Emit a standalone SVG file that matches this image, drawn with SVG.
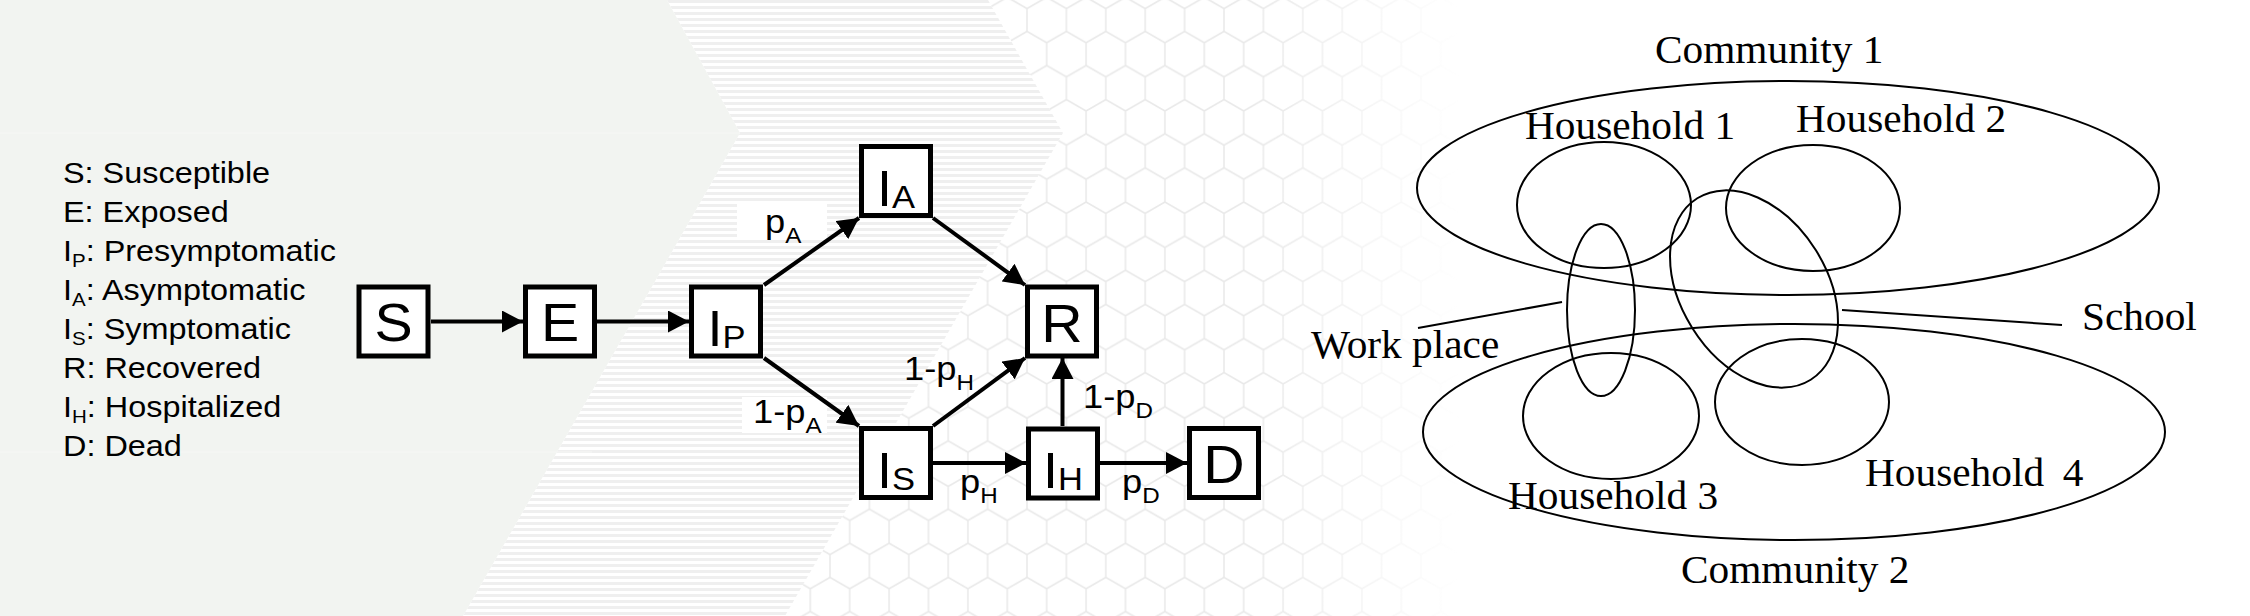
<svg xmlns="http://www.w3.org/2000/svg" width="2250" height="616" viewBox="0 0 2250 616">
<style>
.box{fill:#fff;stroke:#000;stroke-width:5}
.con{fill:none;stroke:#000;stroke-width:4;marker-end:url(#ah)}
.sans{font-family:"Liberation Sans",Arial,sans-serif;fill:#000}
.big{font-size:53px}
.ni{font-size:50px}
.nsub{font-size:32px}
.lbl{font-size:33px}
.lsub{font-size:22px}
.leg{font-size:30px}
.legsub{font-size:19px}
.serif{font-family:"Liberation Serif","Times New Roman",serif;font-size:39px;fill:#000}
.ell{fill:none;stroke:#000;stroke-width:2}
.lbg{fill:#fff}
</style>
<defs>
<marker id="ah" markerUnits="userSpaceOnUse" viewBox="0 0 21 22" markerWidth="21" markerHeight="22" refX="21" refY="11" orient="auto"><path d="M0,0 L21,11 L0,22 z" fill="#000"/></marker>
<pattern id="stripes" patternUnits="userSpaceOnUse" x="0" y="0" width="10" height="6"><rect width="10" height="6" fill="#fff"/><rect y="0" width="10" height="3" fill="#efefef"/></pattern>
<pattern id="hex" patternUnits="userSpaceOnUse" x="1007.3" y="20" width="39.4" height="68.25"><path d="M19.7 0 V11.375 L39.4 22.75 V45.5 L19.7 56.875 V68.25 M19.7 11.375 L0 22.75 V45.5 L19.7 56.875" fill="none" stroke="#e9e9e9" stroke-width="1.5"/></pattern>
<linearGradient id="hexfade" x1="0" y1="0" x2="1" y2="0"><stop offset="0" stop-color="#fff"/><stop offset="0.7" stop-color="#fff"/><stop offset="1" stop-color="#000"/></linearGradient>
<mask id="hexmask" maskUnits="userSpaceOnUse" x="0" y="0" width="2250" height="616"><rect x="780" y="0" width="680" height="616" fill="url(#hexfade)"/></mask>
</defs>
<rect width="2250" height="616" fill="#fff"/>
<g id="background">
<g mask="url(#hexmask)"><polygon points="988,0 1500,0 1500,616 785,616 1063,133" fill="url(#hex)"/></g>
<polygon points="667,0 988,0 1063,133 785,616 463,616 740,133" fill="url(#stripes)"/>
<polygon points="0,0 667,0 740,133 463,616 0,616" fill="#f2f4f1"/>
<line x1="0" y1="133" x2="740" y2="133" stroke="#f6f7f5" stroke-width="1"/>
<line x1="0" y1="452" x2="592" y2="452" stroke="#f6f7f5" stroke-width="1"/>
</g>
<g id="legend" class="sans leg" transform="translate(63,0) scale(1.08,1)">
<text x="0" y="183">S: Susceptible</text>
<text x="0" y="222">E: Exposed</text>
<text x="0" y="261">I<tspan class="legsub" dy="6">P</tspan><tspan dy="-6">: Presymptomatic</tspan></text>
<text x="0" y="300">I<tspan class="legsub" dy="6">A</tspan><tspan dy="-6">: Asymptomatic</tspan></text>
<text x="0" y="339">I<tspan class="legsub" dy="6">S</tspan><tspan dy="-6">: Symptomatic</tspan></text>
<text x="0" y="378">R: Recovered</text>
<text x="0" y="417">I<tspan class="legsub" dy="6">H</tspan><tspan dy="-6">: Hospitalized</tspan></text>
<text x="0" y="456">D: Dead</text>
</g>
<g id="connectors">
<g id="edge-labels" class="sans lbl">
<rect class="lbg" x="737" y="203" width="90" height="36"/>
<text transform="translate(765,233) scale(1.1,1)">p<tspan class="lsub" dy="10">A</tspan></text>
<rect class="lbg" x="742" y="397" width="85" height="36"/>
<text transform="translate(753,423) scale(1.1,1)">1-p<tspan class="lsub" dy="10">A</tspan></text>
<text transform="translate(904,380) scale(1.1,1)">1-p<tspan class="lsub" dy="10">H</tspan></text>
<text transform="translate(1083,408) scale(1.1,1)">1-p<tspan class="lsub" dy="10">D</tspan></text>
<text transform="translate(960,493) scale(1.1,1)">p<tspan class="lsub" dy="10">H</tspan></text>
<text transform="translate(1122,493) scale(1.1,1)">p<tspan class="lsub" dy="10">D</tspan></text>
</g>
<line class="con" x1="431" y1="321.5" x2="523" y2="321.5"/>
<line class="con" x1="597" y1="321.5" x2="689" y2="321.5"/>
<line class="con" x1="764" y1="285" x2="859" y2="218"/>
<line class="con" x1="764" y1="358" x2="859" y2="426"/>
<line class="con" x1="933" y1="218" x2="1025" y2="285"/>
<line class="con" x1="933" y1="426" x2="1025" y2="358"/>
<line class="con" x1="933" y1="463" x2="1026" y2="463"/>
<line class="con" x1="1062.5" y1="426" x2="1062.5" y2="358"/>
<line class="con" x1="1099" y1="463" x2="1187" y2="463"/>
</g>
<g id="node-S"><rect class="box" x="359" y="287" width="69" height="69"/><text class="sans big" text-anchor="middle" transform="translate(393.5,341) scale(1.08,1)">S</text></g>
<g id="node-E"><rect class="box" x="525.5" y="287" width="69" height="69"/><text class="sans big" text-anchor="middle" transform="translate(560,341) scale(1.08,1)">E</text></g>
<g id="node-IP"><rect class="box" x="691.5" y="287" width="69" height="69"/><text class="sans ni" text-anchor="middle" transform="translate(726.5,346) scale(1.08,1)">I<tspan class="nsub" dy="2">P</tspan></text></g>
<g id="node-IA"><rect class="box" x="861.5" y="146.5" width="69" height="69"/><text class="sans ni" text-anchor="middle" transform="translate(896,206) scale(1.08,1)">I<tspan class="nsub" dy="2">A</tspan></text></g>
<g id="node-IS"><rect class="box" x="861.5" y="428.5" width="69" height="69"/><text class="sans ni" text-anchor="middle" transform="translate(896,488) scale(1.08,1)">I<tspan class="nsub" dy="2">S</tspan></text></g>
<g id="node-R"><rect class="box" x="1027.5" y="287" width="69" height="69"/><text class="sans big" text-anchor="middle" transform="translate(1062,342) scale(1.08,1)">R</text></g>
<g id="node-IH"><rect class="box" x="1028.5" y="429" width="69" height="69"/><text class="sans ni" text-anchor="middle" transform="translate(1063,488) scale(1.08,1)">I<tspan class="nsub" dy="2">H</tspan></text></g>
<g id="node-D"><rect class="box" x="1189.5" y="428.5" width="69" height="69"/><text class="sans big" text-anchor="middle" transform="translate(1224,483) scale(1.08,1)">D</text></g>
<g id="community-diagram">
<g id="community1"><ellipse class="ell" cx="1788" cy="188" rx="371" ry="107"/><text class="serif" transform="translate(1655,63) scale(1.06,1)">Community 1</text></g>
<g id="community2"><ellipse class="ell" cx="1794" cy="432" rx="371" ry="108"/><text class="serif" transform="translate(1681,583) scale(1.06,1)">Community 2</text></g>
<g id="household1"><ellipse class="ell" cx="1604" cy="205" rx="87" ry="63"/><text class="serif" transform="translate(1525,139) scale(1.06,1)">Household 1</text></g>
<g id="household2"><ellipse class="ell" cx="1813" cy="208" rx="87" ry="63"/><text class="serif" transform="translate(1796,132) scale(1.06,1)">Household 2</text></g>
<g id="household3"><ellipse class="ell" cx="1611" cy="416" rx="88" ry="63"/><text class="serif" transform="translate(1508,509) scale(1.06,1)">Household 3</text></g>
<g id="household4"><ellipse class="ell" cx="1802" cy="402" rx="87" ry="63"/><text class="serif" transform="translate(1865,486) scale(1.06,1)">Household <tspan dx="8">4</tspan></text></g>
<g id="workplace"><ellipse class="ell" cx="1601" cy="310" rx="34" ry="86"/><line class="ell" x1="1418" y1="328" x2="1562" y2="302"/><text class="serif" transform="translate(1311,358) scale(1.06,1)">Work place</text></g>
<g id="school"><ellipse class="ell" cx="1754" cy="289" rx="107" ry="73" transform="rotate(58 1754 289)"/><line class="ell" x1="1842" y1="310" x2="2062" y2="325"/><text class="serif" transform="translate(2082,330) scale(1.06,1)">School</text></g>
</g>
</svg>
